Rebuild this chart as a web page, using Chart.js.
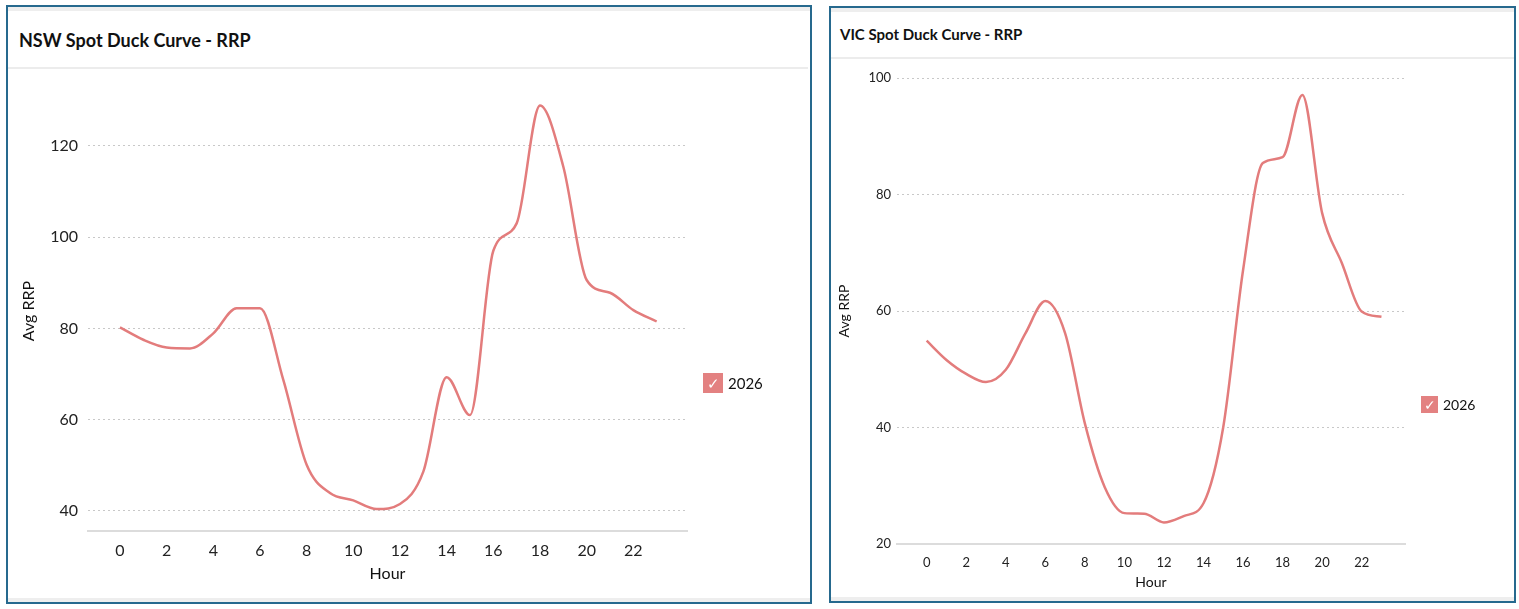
<!DOCTYPE html>
<html>
<head>
<meta charset="utf-8">
<script src="https://cdn.jsdelivr.net/npm/chart.js@4.4.1/dist/chart.umd.min.js"></script>
<style>
  html, body { margin: 0; padding: 0; background: #fff; overflow: hidden; }
  body { width: 1519px; height: 609px; position: relative; font-family: Lato, sans-serif; }
  .card { position: absolute; box-sizing: border-box; border: 2px solid #26698e; background: #fff;
          box-shadow: inset 0 4px 0 #eeeeee, inset 0 -4px 0 #eeeeee; }
  .hline { position: absolute; height: 2px; background: #ececec; }
  .title { position: absolute; font-weight: bold; color: #111; white-space: nowrap; }
  .chartbox { position: absolute; }
  .legend { position: absolute; display: flex; align-items: center; color: #111; white-space: nowrap; }
  .legend .sw { display: inline-block; background: #e38181; color: #fff; text-align: center; margin-right: 5px; }
</style>
</head>
<body>
<div class="card" style="left:6px; top:5px; width:806px; height:599px;"></div>
<div class="hline" style="left:8px; top:67px; width:800px;"></div>
<div class="title" style="left:19px; top:31px; font-size:18px; line-height:18px;">NSW Spot Duck Curve - RRP</div>
<div class="chartbox" style="left:8px; top:69px; width:800px; height:529px;"><canvas id="nswChart"></canvas></div>
<div class="legend" id="nswLegend" style="left:703px; top:373px; font-size:15px; height:20px;"></div>

<div class="card" style="left:829px; top:6px; width:687px; height:597px;"></div>
<div class="hline" style="left:831px; top:57px; width:683px;"></div>
<div class="title" style="left:840px; top:27px; font-size:15px; line-height:15px;">VIC Spot Duck Curve - RRP</div>
<div class="chartbox" style="left:831px; top:60px; width:683px; height:541px;"><canvas id="vicChart"></canvas></div>
<div class="legend" id="vicLegend" style="left:1421px; top:396px; font-size:14px; height:17px;"></div>

<script>
// hour of day
const hours = [0, 1, 2, 3, 4, 5, 6, 7, 8, 9, 10, 11, 12, 13, 14, 15, 16, 17, 18, 19, 20, 21, 22, 23];
const seriesLabel = '2026';

// average RRP per hour
const nswRrp = [80.2, 77.5, 75.8, 75.6, 78.9, 84.4, 84.4, 68.7, 50.1, 43.9, 42.3, 40.4,
                41.5, 48.6, 69.3, 61.0, 97.0, 103.0, 128.8, 115.4, 90.6, 87.8, 84.0, 81.5];
const vicRrp = [54.9, 51.6, 49.2, 47.8, 49.9, 56.2, 61.7, 56.2, 40.7, 29.8, 25.3, 25.2,
                23.7, 24.8, 27.0, 40.1, 67.0, 85.4, 86.4, 97.1, 76.8, 68.2, 59.9, 59.0];

// tick labels
const hourTicks = [0, 2, 4, 6, 8, 10, 12, 14, 16, 18, 20, 22];
const nswTicks = [40, 60, 80, 100, 120];
const vicTicks = [20, 40, 60, 80, 100];

const lineColor = '#e37c7c';

function makeChart(id, values, yTicks, o) {
  const ctx = document.getElementById(id).getContext('2d');
  return new Chart(ctx, {
    type: 'line',
    data: {
      datasets: [{
        label: seriesLabel,
        data: hours.map((h, i) => ({ x: h, y: values[i] })),
        borderColor: lineColor,
        borderWidth: 2.5,
        pointRadius: 0,
        cubicInterpolationMode: 'monotone',
        fill: false,
      }],
    },
    options: {
      responsive: true,
      maintainAspectRatio: false,
      animation: false,
      layout: { padding: { top: o.padTop, right: o.padRight, left: 0, bottom: 0 } },
      plugins: {
        legend: { display: false },
        tooltip: { enabled: false },
      },
      scales: {
        x: {
          type: 'linear',
          min: o.xMin,
          max: o.xMax,
          afterBuildTicks: (scale) => { scale.ticks = hourTicks.map(v => ({ value: v })); },
          afterFit: (scale) => { scale.height = o.xHeight; },
          grid: { display: false },
          border: { display: true, color: '#dcdcdc', width: 2 },
          ticks: { color: '#222', font: { family: 'Lato', size: o.tickSize }, padding: o.xTickPad, maxRotation: 0 },
          title: { display: true, text: 'Hour', color: '#111', font: { family: 'Lato', size: o.titleSize }, padding: { top: 0, bottom: o.xTitlePad } },
        },
        y: {
          min: o.yMin,
          max: o.yMax,
          afterBuildTicks: (scale) => { scale.ticks = yTicks.map(v => ({ value: v })); },
          afterFit: (scale) => { scale.width = o.yWidth; },
          grid: { color: '#c8c8c8', lineWidth: 1, drawTicks: false },
          border: { display: false, dash: [2, 3] },
          ticks: { color: '#222', font: { family: 'Lato', size: o.tickSize }, padding: o.yTickPad },
          title: { display: true, text: 'Avg RRP', color: '#111', font: { family: 'Lato', size: o.titleSize }, padding: { top: o.yTitlePad, bottom: 0 } },
        },
      },
    },
  });
}

function makeLegend(id, size) {
  const el = document.getElementById(id);
  el.innerHTML = '<span class="sw" style="width:' + size + 'px;height:' + size + 'px;line-height:' + size + 'px;">\u2713</span>' + seriesLabel;
}

makeChart('nswChart', nswRrp, nswTicks, {
  xMin: -1.37, xMax: 24.3, yMin: 35.6, yMax: 132,
  padTop: 22, padRight: 121, xHeight: 67, yWidth: 80,
  tickSize: 16, titleSize: 16, xTickPad: 2, xTitlePad: 15, yTickPad: 10, yTitlePad: 11,
});
makeChart('vicChart', vicRrp, vicTicks, {
  xMin: -1.5, xMax: 24.19, yMin: 20, yMax: 100,
  padTop: 18, padRight: 109, xHeight: 57, yWidth: 66,
  tickSize: 13, titleSize: 14, xTickPad: 3, xTitlePad: 10, yTickPad: 6, yTitlePad: 5,
});
makeLegend('nswLegend', 20);
makeLegend('vicLegend', 17);
</script>
</body>
</html>
